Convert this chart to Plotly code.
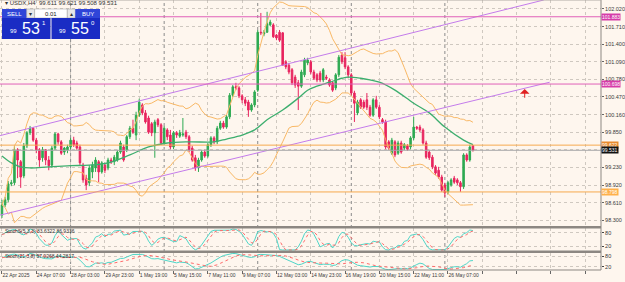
import plotly.graph_objects as go
import pandas as pd

# ---------------- data ----------------
open_ = [98.39, 98.57, 98.66, 98.94, 98.96, 99.54, 99.33, 99.08, 99.61, 99.84,
         99.92, 99.71, 99.54, 99.40, 99.54, 99.36, 99.27, 99.57, 99.82, 99.68,
         99.50, 99.54, 99.59, 99.71, 99.66, 99.59, 99.27, 99.04, 98.96, 99.15,
         99.22, 99.33, 99.15, 99.27, 99.22, 99.36, 99.33, 99.36, 99.50, 99.59,
         99.54, 99.77, 99.92, 99.80, 100.15, 100.33, 100.19, 100.10, 100.00, 99.84,
         100.07, 99.98, 99.66, 99.89, 99.80, 99.59, 99.84, 99.78, 99.80, 99.85,
         99.77, 99.57, 99.40, 99.22, 99.36, 99.50, 99.43, 99.63, 99.75, 99.68,
         99.92, 100.01, 99.94, 100.12, 100.50, 100.65, 100.63, 100.49, 100.42, 100.38,
         100.24, 100.33, 100.59, 101.61, 101.58, 101.61, 101.74, 101.74, 101.56, 101.61,
         101.60, 101.09, 101.03, 100.95, 100.82, 100.72, 100.66, 100.86, 101.07, 101.09,
         100.91, 100.86, 100.89, 100.77, 100.82, 100.77, 100.72, 100.63, 100.86, 101.21,
         101.16, 101.00, 100.86, 100.54, 100.19, 100.42, 100.38, 100.42, 100.29, 100.15,
         100.42, 100.29, 100.07, 100.03, 99.68, 99.48, 99.68, 99.48, 99.66, 99.57,
         99.61, 99.59, 99.75, 99.94, 99.94, 99.89, 99.66, 99.50, 99.41, 99.24,
         99.18, 99.06, 98.92, 98.80, 98.92, 99.04, 99.01, 98.96, 98.89, 99.45,
         99.36, 99.611]
high = [98.66, 98.71, 98.99, 99.01, 99.61, 99.57, 99.36, 99.66, 99.87, 99.96,
        99.94, 99.75, 99.57, 99.59, 99.55, 99.43, 99.61, 99.85, 99.84, 99.71,
        99.59, 99.63, 99.75, 99.77, 99.70, 99.63, 99.31, 99.10, 99.27, 99.33,
        99.41, 99.36, 99.34, 99.31, 99.40, 99.40, 99.45, 99.54, 99.70, 99.63,
        99.80, 99.96, 100.07, 100.21, 100.44, 100.36, 100.24, 100.14, 100.03, 100.07,
        100.10, 100.01, 99.96, 99.92, 99.89, 99.87, 99.87, 99.89, 100.10, 99.89,
        99.80, 99.61, 99.45, 99.40, 99.54, 99.54, 99.66, 99.78, 99.78, 99.96,
        100.05, 100.05, 100.15, 100.54, 100.68, 100.72, 100.66, 100.52, 100.47, 100.42,
        100.36, 100.59, 101.65, 101.95, 101.65, 101.97, 101.83, 101.77, 101.58, 101.65,
        101.61, 101.12, 101.07, 100.98, 100.86, 100.77, 100.95, 101.16, 101.16, 101.12,
        100.95, 100.89, 100.93, 100.98, 100.86, 100.80, 100.75, 100.89, 101.21, 101.26,
        101.26, 101.03, 100.89, 100.58, 100.42, 100.45, 100.42, 100.54, 100.33, 100.45,
        100.49, 100.33, 100.10, 100.07, 99.71, 99.75, 99.71, 99.70, 99.70, 99.66,
        99.64, 99.78, 100.12, 99.96, 99.98, 99.92, 99.70, 99.54, 99.45, 99.27,
        99.24, 99.10, 98.96, 98.99, 99.04, 99.08, 99.04, 98.99, 99.48, 99.48,
        99.63, 99.621]
low = [98.34, 98.53, 98.62, 98.90, 98.92, 99.04, 98.87, 99.04, 99.57, 99.80,
       99.68, 99.48, 99.24, 99.33, 99.27, 99.18, 99.22, 99.54, 99.63, 99.45,
       99.45, 99.48, 99.55, 99.59, 99.54, 99.27, 98.96, 98.83, 98.90, 99.04,
       99.15, 98.97, 99.12, 99.13, 99.18, 99.29, 99.27, 99.33, 99.47, 99.33,
       99.50, 99.73, 99.82, 99.71, 100.12, 100.15, 100.00, 99.82, 99.78, 99.40,
       99.94, 99.63, 99.63, 99.71, 99.55, 99.55, 99.75, 99.75, 99.77, 99.73,
       99.50, 99.33, 99.17, 99.15, 99.33, 99.40, 99.40, 99.59, 99.64, 99.64,
       99.89, 99.91, 99.91, 100.08, 100.47, 100.59, 100.45, 100.36, 100.31, 100.12,
       100.21, 100.29, 100.56, 101.56, 101.54, 101.60, 101.72, 101.51, 101.47, 101.44,
       101.02, 100.96, 100.87, 100.68, 100.63, 100.24, 100.63, 100.82, 101.03, 100.87,
       100.77, 100.73, 100.73, 100.73, 100.77, 100.65, 100.56, 100.59, 100.82, 101.05,
       100.96, 100.80, 100.50, 100.03, 100.15, 100.26, 100.26, 100.24, 100.12, 100.12,
       100.26, 100.08, 100.00, 99.55, 99.54, 99.45, 99.41, 99.45, 99.47, 99.54,
       99.52, 99.55, 99.71, 99.89, 99.85, 99.63, 99.38, 99.36, 99.20, 99.10,
       99.03, 98.80, 98.71, 98.76, 98.89, 98.94, 98.92, 98.80, 98.85, 99.33,
       99.33, 99.508]
close = [98.57, 98.66, 98.94, 98.96, 99.54, 99.36, 99.06, 99.61, 99.84, 99.92,
         99.71, 99.54, 99.36, 99.54, 99.36, 99.26, 99.57, 99.82, 99.68, 99.48,
         99.57, 99.59, 99.71, 99.63, 99.57, 99.31, 99.01, 98.92, 99.22, 99.27,
         99.36, 99.15, 99.31, 99.18, 99.36, 99.33, 99.41, 99.50, 99.66, 99.36,
         99.77, 99.92, 99.85, 100.15, 100.38, 100.19, 100.03, 99.85, 99.84, 100.03,
         99.98, 99.66, 99.92, 99.77, 99.59, 99.84, 99.80, 99.84, 99.82, 99.77,
         99.54, 99.36, 99.22, 99.36, 99.50, 99.43, 99.63, 99.75, 99.68, 99.92,
         100.01, 99.94, 100.12, 100.50, 100.65, 100.63, 100.49, 100.42, 100.36, 100.24,
         100.33, 100.56, 101.61, 101.60, 101.61, 101.76, 101.79, 101.53, 101.51, 101.47,
         101.03, 101.00, 100.91, 100.72, 100.68, 100.66, 100.91, 101.12, 101.12, 100.91,
         100.80, 100.77, 100.77, 100.95, 100.80, 100.68, 100.59, 100.86, 101.17, 101.09,
         101.00, 100.86, 100.54, 100.36, 100.38, 100.29, 100.29, 100.29, 100.15, 100.42,
         100.29, 100.12, 100.03, 99.59, 99.57, 99.71, 99.45, 99.66, 99.50, 99.63,
         99.55, 99.75, 99.94, 99.92, 99.89, 99.66, 99.41, 99.40, 99.24, 99.13,
         99.06, 98.83, 98.78, 98.96, 99.01, 98.97, 98.96, 98.89, 99.45, 99.36,
         99.59, 99.531]

# green moving average, read at sample bars
ma_idx = [0, 3, 6, 9, 15, 22, 28, 34, 41, 47, 53, 60, 68, 72, 77, 81, 85, 90, 95,
          98, 101, 105, 109, 111, 115, 118, 121, 126, 132, 137, 142, 148, 151]
ma_val = [99.43, 99.31, 99.24, 99.22, 99.24, 99.26, 99.27, 99.31, 99.45, 99.59,
          99.66, 99.68, 99.68, 99.73, 99.80, 99.89, 100.07, 100.24, 100.45, 100.59,
          100.66, 100.73, 100.80, 100.82, 100.80, 100.77, 100.73, 100.59, 100.36,
          100.19, 99.94, 99.71, 99.63]

x_label_idx = [0, 11, 22, 33, 44, 55, 66, 77, 88, 99, 110, 121, 132, 143, 154, 165, 176, 187]
x_labels = ["22 Apr 2025", "24 Apr 07:00", "28 Apr 03:00", "29 Apr 23:00", "1 May 19:00",
            "5 May 15:00", "7 May 11:00", "9 May 07:00", "12 May 03:00", "14 May 23:00",
            "16 May 19:00", "20 May 15:00", "22 May 11:00", "26 May 07:00", "", "", "", ""]
week_start_idx = [22, 52, 82, 112, 142]

price_ticks = [102.020, 101.710, 101.400, 101.090, 100.780, 100.470, 100.160,
               99.850, 99.540, 99.230, 98.920, 98.610, 98.300]
price_tick_text = ["102.020", "101.710", "101.400", "101.090", "100.780", "100.470", "100.160",
                   "99.850", "", "99.230", "98.920", "98.610", "98.300"]

magenta_levels = [101.883, 100.698]
orange_levels = [99.622, 98.798]
last_price = 99.531

# channel end points (bar index, price)
chan_upper = [(-0.6, 99.79), (173.7, 102.178)]
chan_lower = [(-0.6, 98.39), (175.6, 100.73)]

arrow_pt = (167.6, 100.61, 100.43)

header = "▾ USDX,H4  99.611 99.621 99.508 99.531"
stoch1_title = "StochS(5,3,3) 83.6322 86.9336"
stoch2_title = "Stoch(21,3,8) 57.0268 44.2817"

# ---------------- indicators ----------------
c = pd.Series(close)
h = pd.Series(high)
l = pd.Series(low)
mid = c.rolling(20, min_periods=1).mean()
sd = c.rolling(20, min_periods=1).std(ddof=0).fillna(0)
bb_up = mid + 2 * sd
bb_dn = mid - 2 * sd


def stoch(k, d, s):
    ll = l.rolling(k, min_periods=1).min()
    hh = h.rolling(k, min_periods=1).max()
    num = (c - ll).rolling(s, min_periods=1).sum()
    den = (hh - ll).rolling(s, min_periods=1).sum()
    main = 100 * num / den.replace(0, float("nan"))
    main = main.fillna(50)
    sig = main.rolling(d, min_periods=1).mean()
    return main, sig

st1_m, st1_s = stoch(5, 3, 3)
st2_m, st2_s = stoch(21, 8, 3)

idx = list(range(len(close)))

# ---------------- layout geometry ----------------
W, H = 625, 282
MR, MB = 18, 12
PW, PH = W - MR, H - MB


def px(x):
    return x / PW


def py(y):
    return (PH - y) / PH


BG = "#FEF6EE"
GRID = "#CFC8C0"
GREEN = "#2EAA52"
RED = "#E8245E"
ORANGE = "#F9B865"
PURPLE = "#C47CEB"
MAGENTA = "#E060B8"

xr = [-0.635, 192.06]

fig = go.Figure()
fig.add_trace(go.Candlestick(
    x=idx, open=open_, high=high, low=low, close=close,
    increasing=dict(line=dict(color=GREEN, width=1), fillcolor=GREEN),
    decreasing=dict(line=dict(color=RED, width=1), fillcolor=RED),
    whiskerwidth=0, xaxis="x", yaxis="y", hoverinfo="skip"))
fig.add_trace(go.Scatter(x=idx, y=bb_up, mode="lines", line=dict(color=ORANGE, width=1),
                         xaxis="x", yaxis="y"))
fig.add_trace(go.Scatter(x=idx, y=bb_dn, mode="lines", line=dict(color=ORANGE, width=1),
                         xaxis="x", yaxis="y"))
fig.add_trace(go.Scatter(x=ma_idx, y=ma_val, mode="lines",
                         line=dict(color="#3DAE6E", width=1.3, shape="spline"),
                         xaxis="x", yaxis="y"))
# channel
for seg in (chan_upper, chan_lower):
    fig.add_trace(go.Scatter(x=[seg[0][0], seg[1][0]], y=[seg[0][1], seg[1][1]], mode="lines",
                             line=dict(color=PURPLE, width=1), xaxis="x", yaxis="y"))
# stochastics
fig.add_trace(go.Scatter(x=idx, y=st1_m, mode="lines", line=dict(color="#4FD6C8", width=1),
                         xaxis="x", yaxis="y2"))
fig.add_trace(go.Scatter(x=idx, y=st1_s, mode="lines", line=dict(color="#FF6B6B", width=1, dash="dot"),
                         xaxis="x", yaxis="y2"))
fig.add_trace(go.Scatter(x=idx, y=st2_m, mode="lines", line=dict(color="#4FD6C8", width=1),
                         xaxis="x", yaxis="y3"))
fig.add_trace(go.Scatter(x=idx, y=st2_s, mode="lines", line=dict(color="#FF6B6B", width=1, dash="dot"),
                         xaxis="x", yaxis="y3"))

tickfont = dict(family="Liberation Sans", size=5.5, color="#3A3A3A")
xtickfont = dict(family="Liberation Sans", size=5, color="#3A3A3A")

shapes = []
for lv in magenta_levels:
    shapes.append(dict(type="line", xref="paper", yref="y", x0=0, x1=1, y0=lv, y1=lv,
                       line=dict(color=MAGENTA, width=1)))
for lv in orange_levels:
    shapes.append(dict(type="line", xref="paper", yref="y", x0=0, x1=1, y0=lv, y1=lv,
                       line=dict(color="#F6A94E", width=1)))
shapes.append(dict(type="line", xref="paper", yref="y", x0=0, x1=1, y0=last_price, y1=last_price,
                   line=dict(color="#A8A8A8", width=1)))
for wi in week_start_idx:
    shapes.append(dict(type="line", xref="x", yref="paper", x0=wi, x1=wi, y0=0, y1=1,
                       line=dict(color="#8A8A8A", width=1, dash="dot"), layer="below"))
# panel separators / frame
for (y0, y1) in [(226, 228.5), (250.5, 253)]:
    shapes.append(dict(type="rect", xref="paper", yref="paper", x0=0, x1=px(PW), y0=py(y1), y1=py(y0),
                       fillcolor="#8C8782", line=dict(width=0)))
shapes.append(dict(type="line", xref="paper", yref="paper", x0=1, x1=1, y0=0, y1=1,
                   line=dict(color="#8C8782", width=1)))
shapes.append(dict(type="line", xref="paper", yref="paper", x0=0, x1=1, y0=0, y1=0,
                   line=dict(color="#8C8782", width=1)))
shapes.append(dict(type="line", xref="paper", yref="paper", x0=0, x1=1, y0=1, y1=1,
                   line=dict(color="#B0AAA4", width=1)))


# one-click trading panel
def rect(x0, y0, x1, y1, fill, line=None):
    shapes.append(dict(type="rect", xref="paper", yref="paper", x0=px(x0), x1=px(x1),
                       y0=py(y1), y1=py(y0), fillcolor=fill,
                       line=dict(width=0) if line is None else line))

rect(2, 9, 27, 18, "#2F45D8")
rect(27, 9, 35, 18, "#E8E8E8", dict(color="#9A9A9A", width=0.5))
rect(35, 9, 68, 18, "#FFFFFF", dict(color="#9A9A9A", width=0.5))
rect(68, 9, 76, 18, "#E8E8E8", dict(color="#9A9A9A", width=0.5))
rect(76, 9, 101, 18, "#2F45D8")
rect(2, 18, 51, 39, "#1A2CC4")
rect(52, 18, 101, 39, "#1A2CC4")

annotations = []


def txt(x, y, s, size=6, color="#222", anchor="left", yanchor="middle", family="Liberation Sans"):
    annotations.append(dict(xref="paper", yref="paper", x=px(x), y=py(y), text=s, showarrow=False,
                            xanchor=anchor, yanchor=yanchor,
                            font=dict(family=family, size=size, color=color)))

txt(3, 3.5, header, size=6, color="#333")
txt(5, 13.5, "SELL", size=6, color="white")
txt(31, 13.5, "▾", size=6, color="#333", anchor="center")
txt(60, 13.5, "0.01", size=6, color="#222", anchor="right")
txt(72, 13.5, "▴", size=6, color="#333", anchor="center")
txt(81, 13.5, "BUY", size=6, color="white")
txt(19, 31, "99", size=6, color="white", anchor="right")
txt(20, 29, "53", size=16, color="white")
txt(40, 23, "1", size=6, color="white")
txt(69, 31, "99", size=6, color="white", anchor="right")
txt(70, 29, "55", size=16, color="white")
txt(90, 23, "0", size=6, color="white")
txt(3, 231, stoch1_title, size=5, color="#333")
txt(3, 256, stoch2_title, size=5, color="#333")

# right side price labels
for lv, col in [(magenta_levels[0], "#D63CA8"), (magenta_levels[1], "#D63CA8"),
                (orange_levels[0], "#E88A2E"), (last_price, "#111111"), (orange_levels[1], "#FFB04A")]:
    annotations.append(dict(xref="paper", yref="y", x=1, y=lv, text="%.3f" % lv, showarrow=False,
                            xanchor="left", yanchor="middle", bgcolor=col, borderpad=0,
                            font=dict(family="Liberation Sans", size=5, color="white")))

# red arrow object
annotations.append(dict(xref="x", yref="y", x=arrow_pt[0], y=arrow_pt[1], axref="x", ayref="y",
                        ax=arrow_pt[0], ay=arrow_pt[2], showarrow=True, arrowhead=1,
                        arrowsize=1.6, arrowwidth=1, arrowcolor="#E02020", text=""))

fig.update_layout(
    width=W, height=H, margin=dict(l=0, r=MR, t=0, b=MB),
    paper_bgcolor=BG, plot_bgcolor=BG, showlegend=False,
    shapes=shapes, annotations=annotations,
    xaxis=dict(range=xr, anchor="y3", domain=[0, 1], rangeslider=dict(visible=False),
               tickmode="array", tickvals=x_label_idx, ticktext=x_labels, tickangle=0,
               ticks="outside", ticklen=3, tickcolor="#666", tickfont=xtickfont,
               ticklabelposition="outside right",
               showgrid=True, gridcolor=GRID, griddash="dot", gridwidth=1,
               zeroline=False, showline=False),
    yaxis=dict(domain=[py(226), py(0)], range=[102.178 - 0.01761 * 226, 102.178],
               side="right", anchor="x", tickmode="array", tickvals=price_ticks,
               ticktext=price_tick_text, ticks="outside", ticklen=2, tickcolor="#666",
               tickfont=tickfont, showgrid=True, gridcolor=GRID, griddash="dot",
               zeroline=False),
    yaxis2=dict(domain=[py(251), py(228)], range=[0, 100], side="right", anchor="x",
                tickmode="array", tickvals=[20, 80], ticktext=["20", "80"], ticks="outside",
                ticklen=2, tickfont=tickfont, showgrid=True, gridcolor=GRID, griddash="dot",
                zeroline=False),
    yaxis3=dict(domain=[py(270), py(253)], range=[0, 100], side="right", anchor="x",
                tickmode="array", tickvals=[20, 80], ticktext=["20", "80"], ticks="outside",
                ticklen=2, tickfont=tickfont, showgrid=True, gridcolor=GRID, griddash="dot",
                zeroline=False),
)

fig.write_html("out.html")
